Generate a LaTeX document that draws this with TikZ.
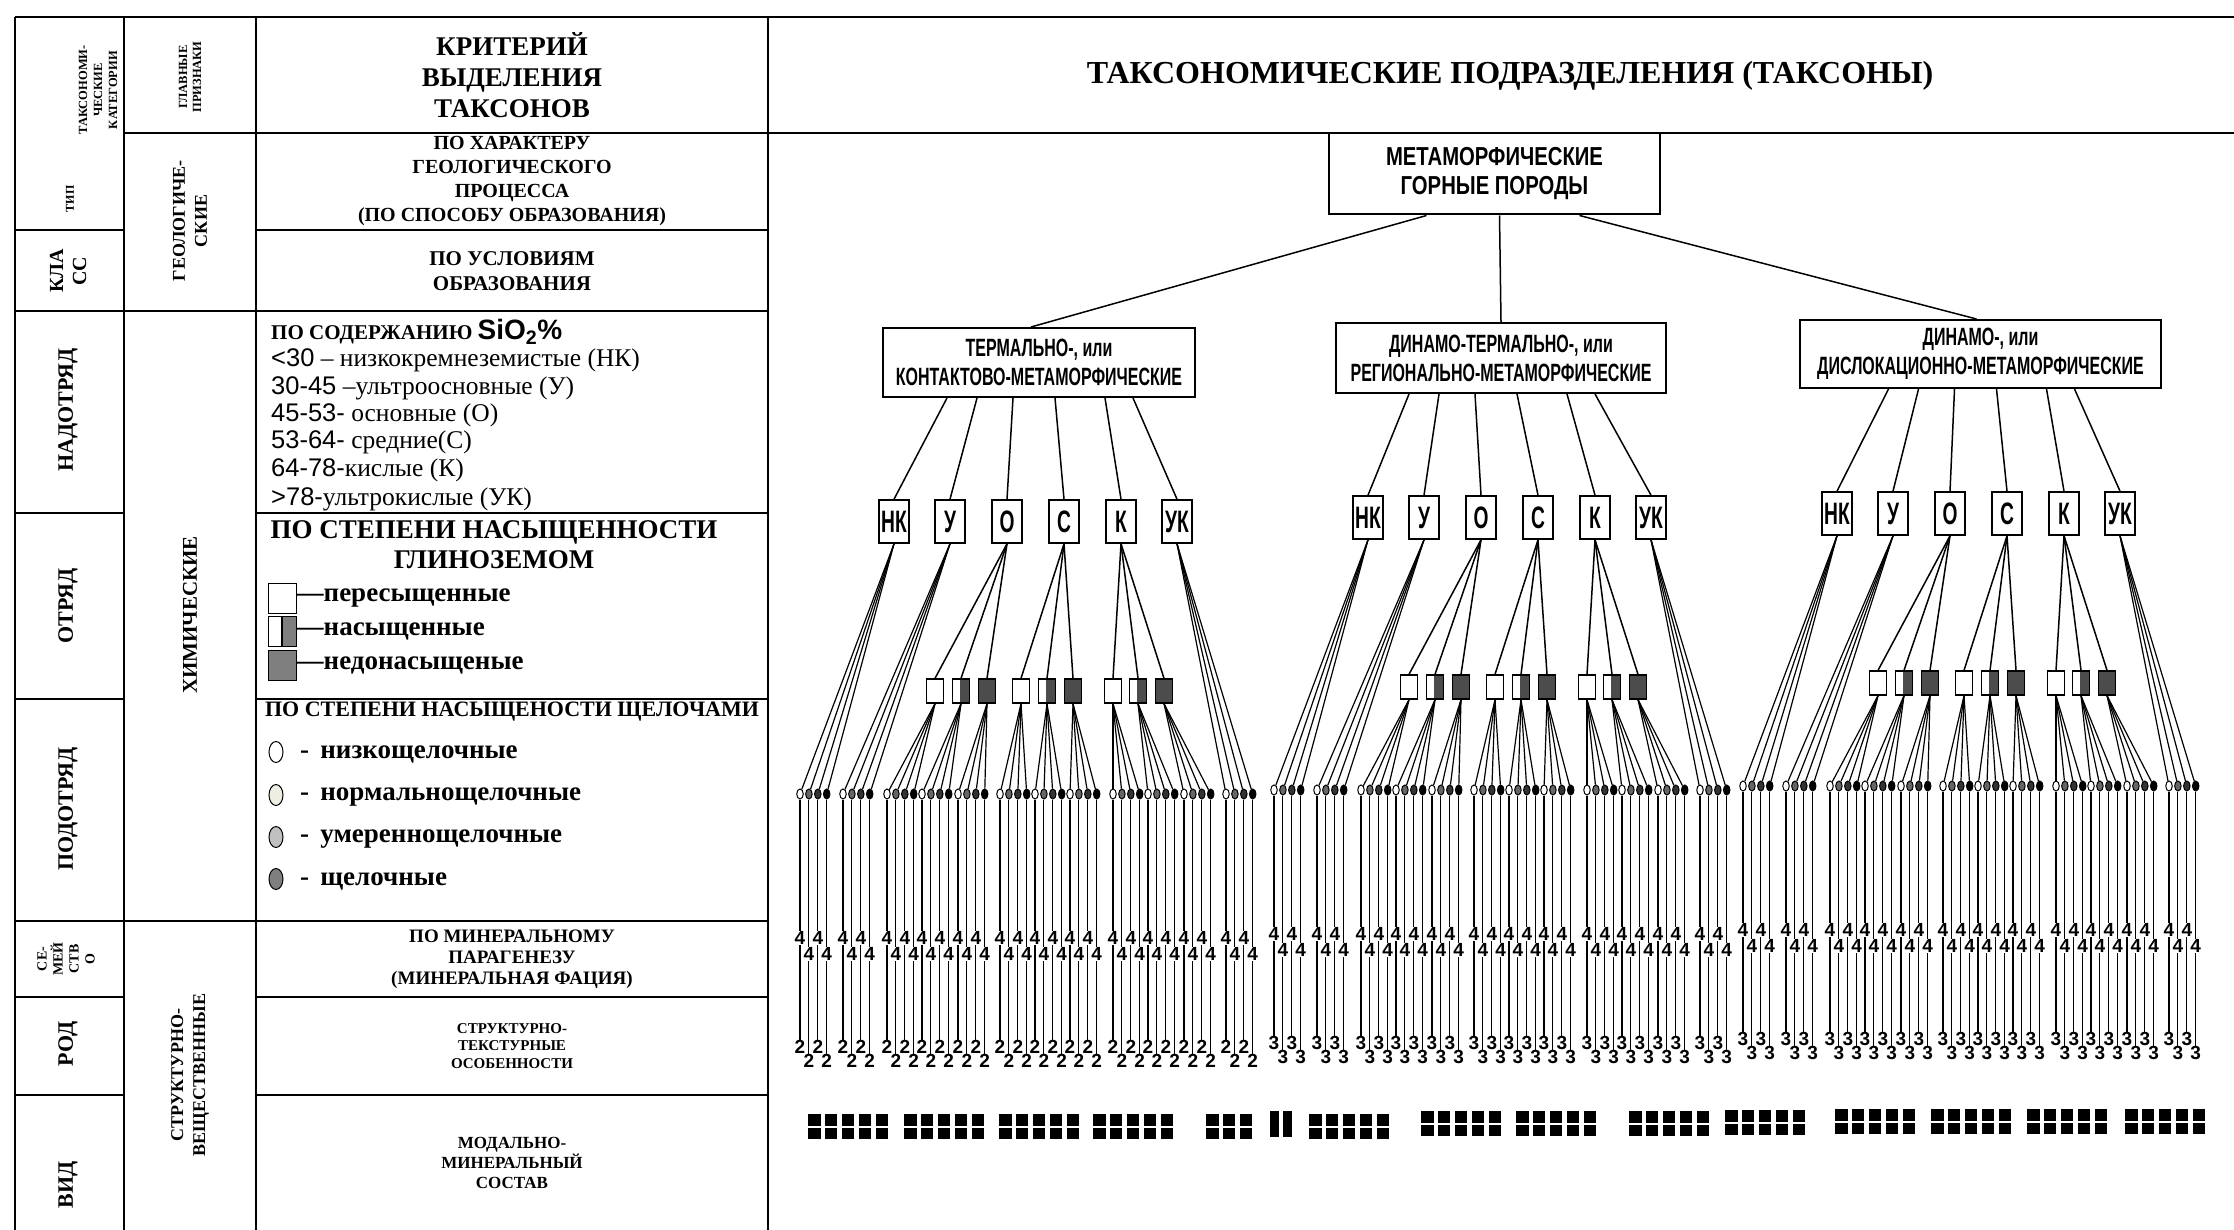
\documentclass[tikz,border=0pt]{standalone}
\usepackage{fontspec}
\setmainfont{Liberation Serif}
\newfontfamily\arialfont{Liberation Sans}
\newfontfamily\rootfont[FakeStretch=0.78]{Liberation Sans}
\newfontfamily\treefont[FakeStretch=0.64]{Liberation Sans}
\newfontfamily\boxfont[FakeStretch=0.62]{Liberation Sans}
\usetikzlibrary{positioning, calc, shapes.geometric}
\newcommand\fsz[2]{\fontsize{#1pt}{#2pt}\selectfont}
\definecolor{cream}{HTML}{EEEEE2}
\definecolor{lightgrey}{HTML}{C0C0C0}
\definecolor{midgrey}{HTML}{7F7F7F}
\tikzset{x=1pt, y=-1pt,
	grid/.style={line width=2.8pt},
	side/.style={rotate=90, font=\bfseries, align=center, inner sep=0pt},
	cell/.style={font=\bfseries, align=center, inner sep=0pt},
	taxon/.style={draw, line width=2pt, align=center, inner sep=0pt, font=\treefont\bfseries\fsz{25}{29}},
	siobox/.style={draw, line width=1.6pt, minimum width=30pt, minimum height=43pt, inner sep=0pt, font=\boxfont\bfseries\fsz{31}{32}},
	satsq/.style={draw, line width=1.3pt, minimum width=17pt, minimum height=24pt, inner sep=0pt},
	wsq/.style={satsq, fill=white},
	hsq/.style={satsq, path picture={\fill[black!70] ([xshift=-1pt]path picture bounding box.north) rectangle (path picture bounding box.south east);}},
	dsq/.style={satsq, fill=black!70},
	alkdot/.style={ellipse, draw, line width=1pt, minimum width=6.5pt, minimum height=10pt, inner sep=0pt},
	digit/.style={font=\arialfont\bfseries\fsz{19}{19}, inner sep=0.5pt},
	legsq/.style={draw, line width=1pt, minimum width=28pt, minimum height=30pt, inner sep=0pt},
	leghalf/.style={legsq, path picture={\fill[midgrey] ([xshift=1pt]path picture bounding box.north) rectangle (path picture bounding box.south east); \draw[line width=1.2pt] (path picture bounding box.north) -- (path picture bounding box.south);}},
	legdot/.style={ellipse, draw, line width=1pt, minimum width=14pt, minimum height=21pt, inner sep=0pt},
	legtext/.style={anchor=west, inner sep=0pt, font=\bfseries\fsz{27}{27}},
	branch/.style={line width=1.5pt},
	fanline/.style={line width=1.2pt},
	stemline/.style={line width=1.1pt}
}

\begin{document}
\begin{tikzpicture}
	\useasboundingbox (0,0) rectangle (2234,1230);
	% table
	\draw[grid] (15,17) -- (2234,17);
	\draw[grid] (124,133) -- (2234,133);
	\foreach \x in {15,124,256,768} \draw[grid] (\x,17) -- (\x,1230);
	\foreach \y in {230,513,699,997,1095} {
		\draw[grid] (15,\y) -- (124,\y);
		\draw[grid] (256,\y) -- (768,\y);
	}
	\foreach \y in {311,921} \draw[grid] (15,\y) -- (768,\y);

	\node[side, font=\bfseries\fsz{12.5}{15}] (CatHead) at (98,90) {ТАКСОНОМИ-\\ЧЕСКИЕ\\КАТЕГОРИИ};
	\node[side, font=\bfseries\fsz{12}{14}] (TipCell) at (70,199) {ТИП};
	\node[side, font=\bfseries\fsz{20}{23}] (KlassCell) at (68,271) {КЛА\\СС};
	\node[side, font=\bfseries\fsz{22}{26}] (NadotryadCell) at (68,410) {НАДОТРЯД};
	\node[side, font=\bfseries\fsz{22}{26}] (OtryadCell) at (68,606) {ОТРЯД};
	\node[side, font=\bfseries\fsz{22}{26}] (PodotryadCell) at (68,809) {ПОДОТРЯД};
	\node[side, font=\bfseries\fsz{14}{16}] (SemCell) at (66,959) {СЕ-\\МЕЙ\\СТВ\\О};
	\node[side, font=\bfseries\fsz{22}{26}] (RodCell) at (68,1044) {РОД};
	\node[side, font=\bfseries\fsz{22}{26}] (VidCell) at (68,1185) {ВИД};

	\node[side, font=\bfseries\fsz{12.5}{14}] (SignHead) at (190,77) {ГЛАВНЫЕ\\ПРИЗНАКИ};
	\node[side, font=\bfseries\fsz{18}{22}] (GeolCell) at (190,221) {ГЕОЛОГИЧЕ-\\СКИЕ};
	\node[side, font=\bfseries\fsz{21}{24}] (ChemCell) at (190,615) {ХИМИЧЕСКИЕ};
	\node[side, font=\bfseries\fsz{18}{22}] (StructCell) at (190,1075) {СТРУКТУРНО-\\ВЕЩЕСТВЕННЫЕ};

	\node[cell, font=\bfseries\fsz{27}{31}] (CritHead) at (512,75) {КРИТЕРИЙ\\ВЫДЕЛЕНИЯ\\ТАКСОНОВ};
	\node[cell, font=\bfseries\fsz{20}{24.3}] (ProcessCell) at (512,181) {ПО ХАРАКТЕРУ\\ГЕОЛОГИЧЕСКОГО\\ПРОЦЕССА\\(ПО СПОСОБУ ОБРАЗОВАНИЯ)};
	\node[cell, font=\bfseries\fsz{21}{25}] (CondCell) at (512,271) {ПО УСЛОВИЯМ\\ОБРАЗОВАНИЯ};

	\node[anchor=west, inner sep=0pt, font=\bfseries\fsz{21}{24}] (SilicaHead) at (271,332) {ПО СОДЕРЖАНИЮ {\arialfont\fsz{28}{30}SiO\textsubscript{2}\%}};
	\node[anchor=west, inner sep=0pt, font=\fsz{25.5}{27}] (SiNK) at (271,360) {{\arialfont <30} – низкокремнеземистые (НК)};
	\node[anchor=west, inner sep=0pt, font=\fsz{25.5}{27}] (SiU) at (271,388) {{\arialfont 30-45} –ультроосновные (У)};
	\node[anchor=west, inner sep=0pt, font=\fsz{25.5}{27}] (SiO) at (271,415) {{\arialfont 45-53-} основные (О)};
	\node[anchor=west, inner sep=0pt, font=\fsz{25.5}{27}] (SiS) at (271,442) {{\arialfont 53-64-} средние(С)};
	\node[anchor=west, inner sep=0pt, font=\fsz{25.5}{27}] (SiK) at (271,470) {{\arialfont 64-78-}кислые (К)};
	\node[anchor=west, inner sep=0pt, font=\fsz{25.5}{27}] (SiUK) at (271,499) {{\arialfont >78-}ультрокислые (УК)};

	\node[cell, font=\bfseries\fsz{27}{30}] (AluminaHead) at (494,545) {ПО СТЕПЕНИ НАСЫЩЕННОСТИ\\ГЛИНОЗЕМОМ};
	\node[legsq, fill=white] (SqOver) at (282,598) {};
	\node[leghalf] (SqSat) at (282,631) {};
	\node[legsq, fill=midgrey] (SqUnder) at (282,665) {};
	\node[legtext] (OverTxt) at (SqOver.east) {—пересыщенные};
	\node[legtext] (SatTxt) at (SqSat.east) {—насыщенные};
	\node[legtext] (UnderTxt) at (SqUnder.east) {—недонасыщеные};

	\node[cell, font=\bfseries\fsz{22}{24}] (AlkHead) at (512,712) {ПО СТЕПЕНИ НАСЫЩЕНОСТИ ЩЕЛОЧАМИ};
	\node[legdot, fill=white] (DotLow) at (276,752) {};
	\node[legdot, fill=cream] (DotNorm) at (276,795) {};
	\node[legdot, fill=lightgrey] (DotMod) at (276,837) {};
	\node[legdot, fill=midgrey] (DotAlk) at (276,879) {};
	\node[legtext] (LowTxt) at (300,754) {-\, низкощелочные};
	\node[legtext] (NormTxt) at (300,797) {-\, нормальнощелочные};
	\node[legtext] (ModTxt) at (300,839) {-\, умереннощелочные};
	\node[legtext] (AlkTxt) at (300,881) {-\, щелочные};

	\node[cell, font=\bfseries\fsz{19}{21}] (ParagCell) at (512,959) {ПО МИНЕРАЛЬНОМУ\\ПАРАГЕНЕЗУ\\(МИНЕРАЛЬНАЯ ФАЦИЯ)};
	\node[cell, font=\bfseries\fsz{15}{17.5}] (TextureCell) at (512,1046) {СТРУКТУРНО-\\ТЕКСТУРНЫЕ\\ОСОБЕННОСТИ};
	\node[cell, font=\bfseries\fsz{17}{20}] (ModalCell) at (512,1163) {МОДАЛЬНО-\\МИНЕРАЛЬНЫЙ\\СОСТАВ};

	\node[cell, font=\bfseries\fsz{32}{34}] (TaxaHead) at (1510,76) {ТАКСОНОМИЧЕСКИЕ ПОДРАЗДЕЛЕНИЯ (ТАКСОНЫ)};

	% tree
	\node[taxon, font=\rootfont\bfseries\fsz{26}{29}, minimum width=331pt, minimum height=81pt] (Root) at (1494.5,174) {МЕТАМОРФИЧЕСКИЕ\\ГОРНЫЕ ПОРОДЫ};
	\node[taxon, minimum width=312pt, minimum height=69pt] (Termal) at (1039,362.5) {ТЕРМАЛЬНО-, или\\КОНТАКТОВО-МЕТАМОРФИЧЕСКИЕ};
	\node[taxon, minimum width=330pt, minimum height=70pt] (DinamoTermal) at (1501,358) {ДИНАМО-ТЕРМАЛЬНО-, или\\РЕГИОНАЛЬНО-МЕТАМОРФИЧЕСКИЕ};
	\node[taxon, minimum width=361pt, minimum height=68pt] (Dinamo) at (1980.5,354) {ДИНАМО-, или\\ДИСЛОКАЦИОННО-МЕТАМОРФИЧЕСКИЕ};
	\draw[branch] ([xshift=-68pt]Root.south) -- ([xshift=-8pt]Termal.north);
	\draw[branch] ([xshift=5pt]Root.south) -- (DinamoTermal.north);
	\draw[branch] ([xshift=85pt]Root.south) -- ([xshift=-4pt]Dinamo.north);

	\foreach \g/\grp/\base/\gy/\gen in {1/Termal/800/0/2, 2/DinamoTermal/1274/-4/3, 3/Dinamo/1743/-8/3} {
		\foreach \rel/\dx/\lab [count=\i] in {94/-92/НК, 150/-62/У, 207/-26/О, 264/16/С, 321/66/К, 377/94/УК} {
			\node[siobox] (Sio-\g-\i) at ({\base+\rel}, {\gy+521.5}) {\lab};
			\draw[branch] ([xshift=\dx pt]\grp.south) -- (Sio-\g-\i.north);
		}
		\foreach \s/\rel/\up/\kind in {3/135/3/wsq, 4/161/3/hsq, 5/187/3/dsq, 6/221/4/wsq, 7/247/4/hsq, 8/273/4/dsq, 9/313/5/wsq, 10/338/5/hsq, 11/364/5/dsq} {
			\node[\kind] (Sat-\g-\s) at ({\base+\rel}, {\gy+691}) {};
			\draw[branch] (Sio-\g-\up.south) -- (Sat-\g-\s.north);
		}
		\foreach \s/\start/\up in {1/0/Sio-\g-1, 2/43/Sio-\g-2, 3/87/Sat-\g-3, 4/122/Sat-\g-4, 5/158/Sat-\g-5, 6/200/Sat-\g-6, 7/235/Sat-\g-7, 8/270/Sat-\g-8, 9/313/Sat-\g-9, 10/348/Sat-\g-10, 11/384/Sat-\g-11, 12/426/Sio-\g-6} {
			\foreach \k/\shade/\ya/\yb in {0/white/938/1047, 1/black!60/954/1061, 2/black!80/938/1047, 3/black/954/1061} {
				\node[alkdot, fill=\shade] (Alk-\g-\s-\k) at ({\base+\start+8.9*\k}, {\gy+794}) {};
				\node[digit] (Fac-\g-\s-\k) at ({\base+\start+8.9*\k}, {\gy+\ya}) {4};
				\node[digit] (Rod-\g-\s-\k) at ({\base+\start+8.9*\k}, {\gy+\yb}) {\gen};
				\draw[fanline] (\up.south) -- (Alk-\g-\s-\k);
				\draw[stemline] (Alk-\g-\s-\k) -- (Fac-\g-\s-\k) -- (Rod-\g-\s-\k);
			}
		}
	}

	% species blocks
	\foreach \x/\n/\dy in {808/5/0, 904/5/0, 999/5/0, 1093/5/0, 1206/3/0, 1309/5/0, 1421/5/-3, 1516/5/-3, 1629/5/-3, 1725/5/-4, 1835/5/-5, 1931/5/-5, 2027/5/-5, 2125/5/-5}
		\foreach \j in {1,...,\n} {
			\fill ({\x+16.9*\j-16.9}, {\dy+1114}) rectangle ++(12.5,11.5);
			\fill ({\x+16.9*\j-16.9}, {\dy+1127.5}) rectangle ++(12.5,11.5);
		}
	\fill (1270,1111) rectangle ++(9,26);
	\fill (1283,1111) rectangle ++(9,26);
\end{tikzpicture}
\end{document}
